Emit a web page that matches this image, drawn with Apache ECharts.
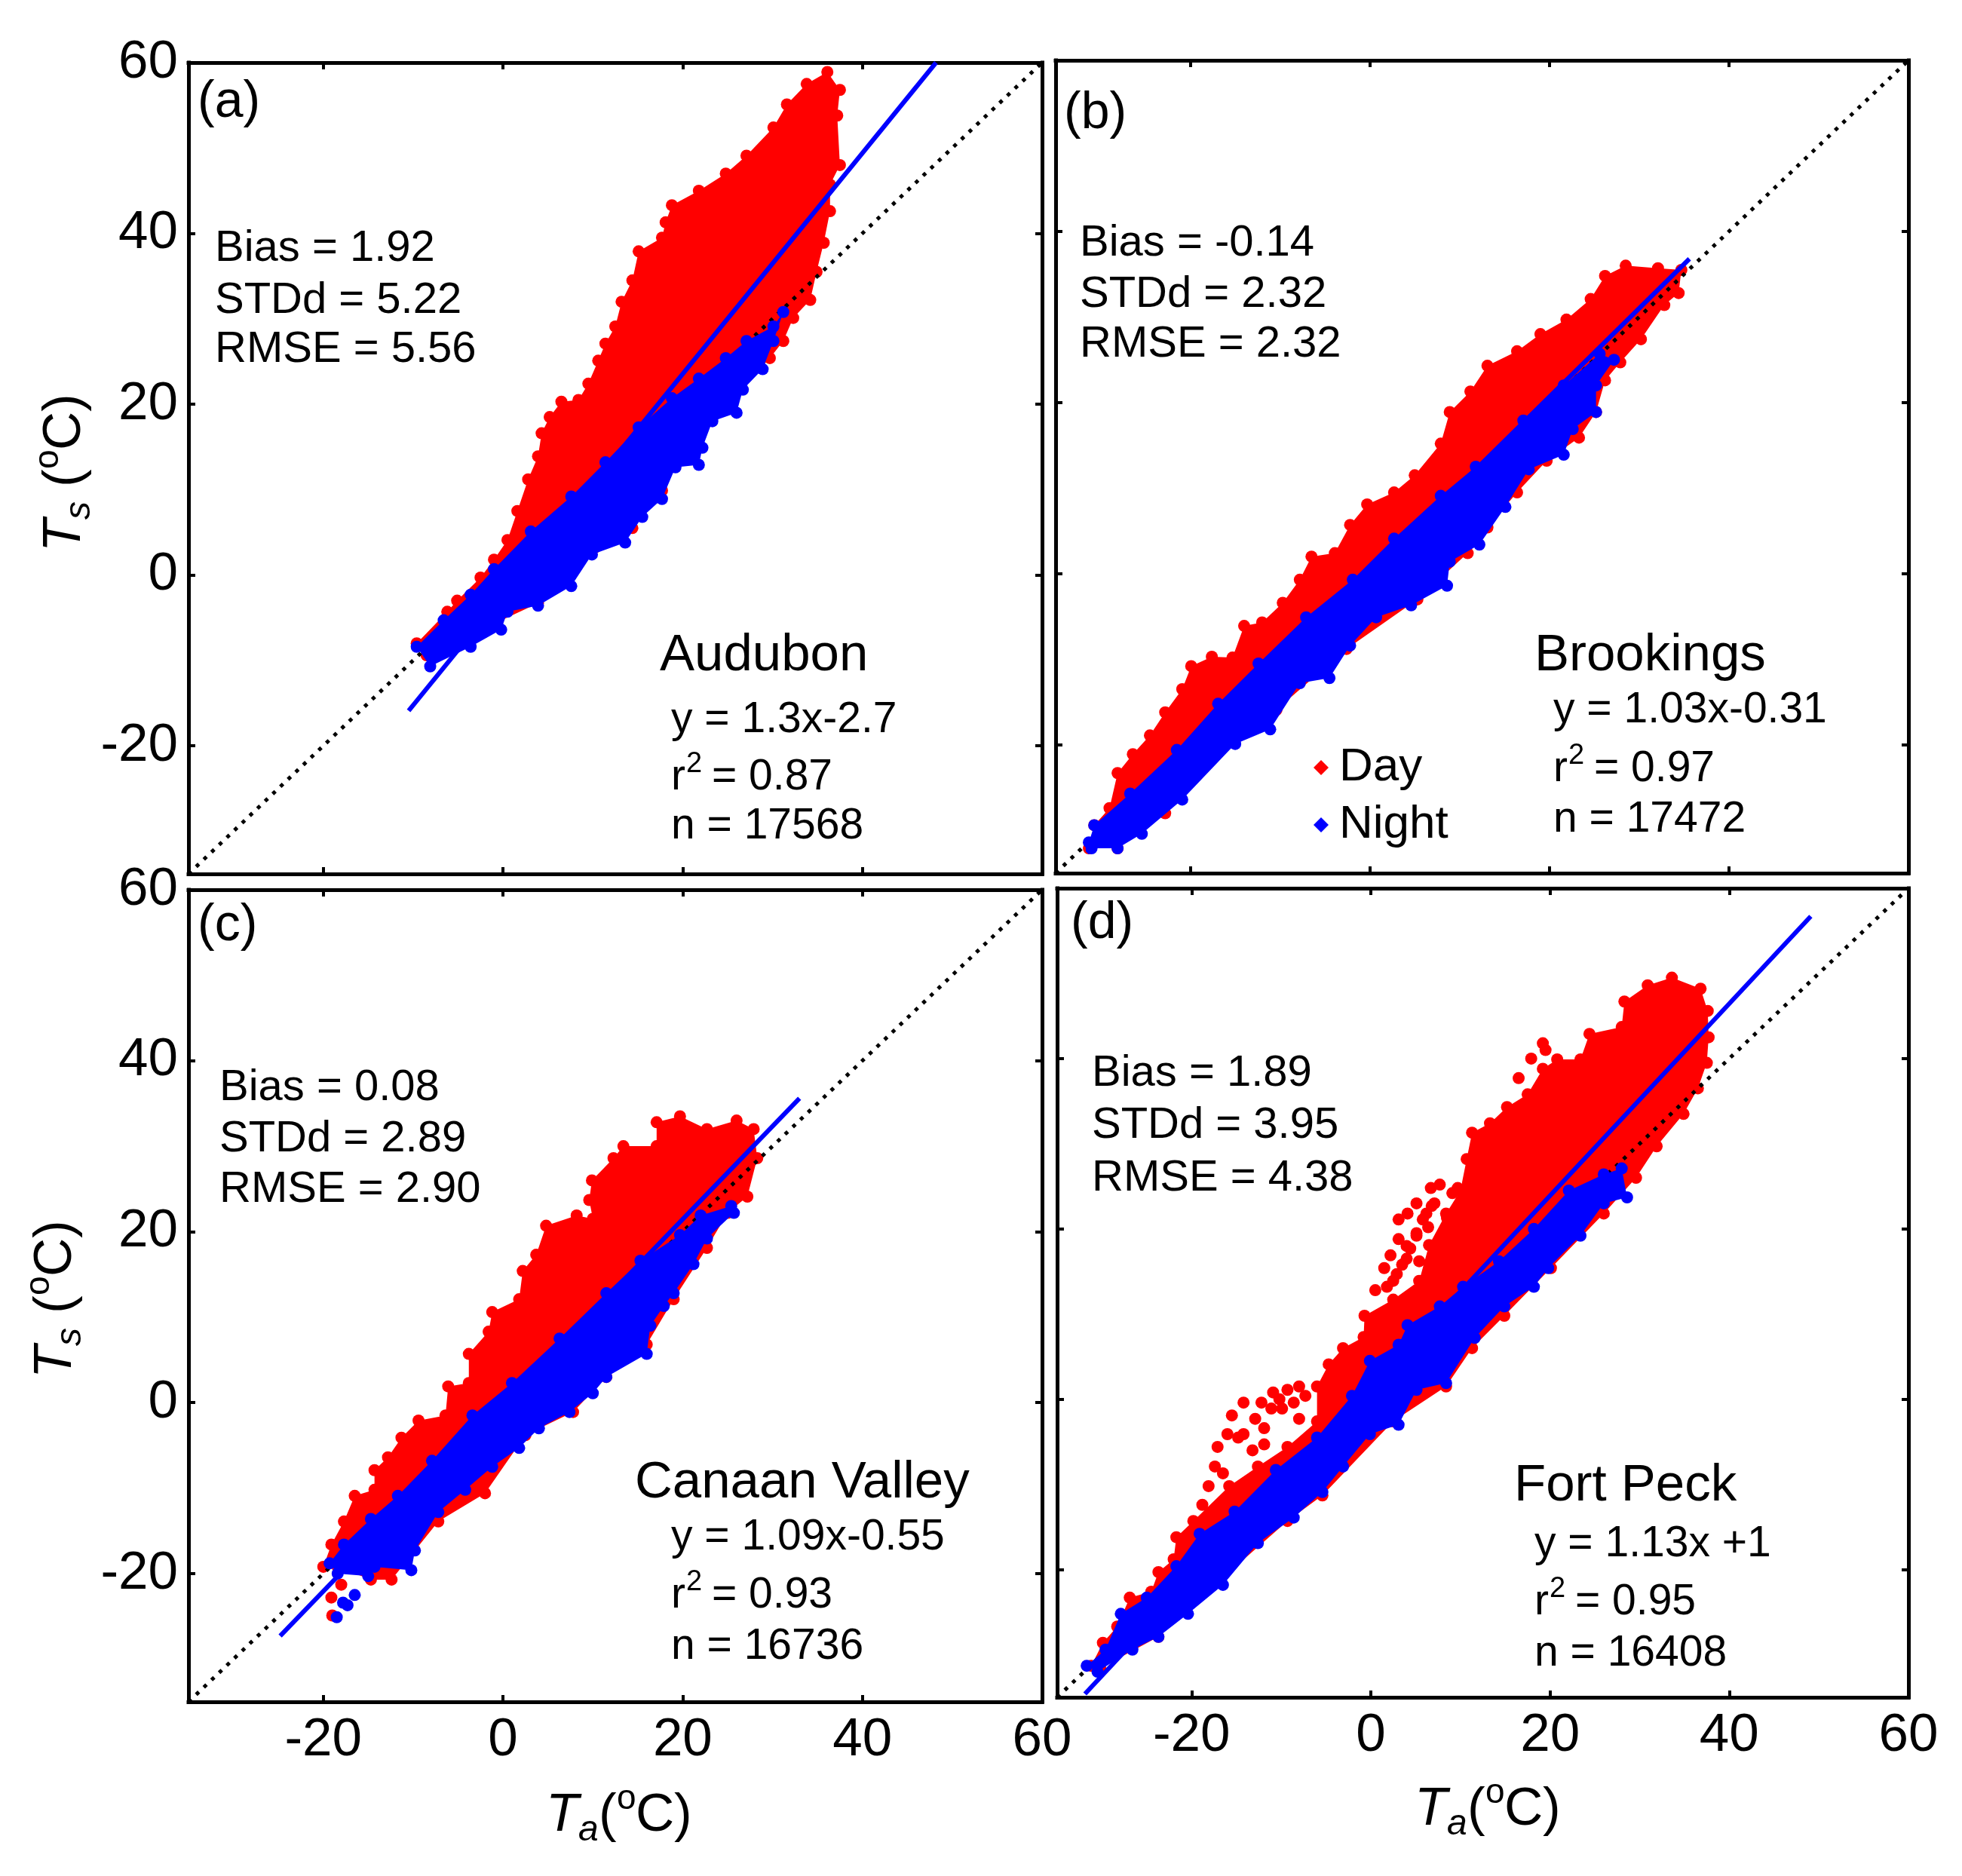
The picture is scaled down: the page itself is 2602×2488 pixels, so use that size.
<!DOCTYPE html>
<html><head><meta charset="utf-8">
<style>html,body{margin:0;padding:0;background:#fff}#c{width:2602px;height:2488px}</style>
<script src="https://cdn.jsdelivr.net/npm/echarts@6/dist/echarts.min.js"></script>
</head><body><div id="c"></div>
<script>
var tickValues=[-20,0,20,40,60];
var oneToOne=[[-35,-35],[60,60]];
var fitA=[[-10.5,-15.9],[48.2,60]];
var fitB=[[-31.5,-32.6],[35.6,36.8]];
var fitC=[[-24.8,-27.3],[33.0,35.6]];
var fitD=[[-31.9,-34.6],[49.1,56.7]];
var dayA=[[-9.6,-8.0],[-6.2,-4.3],[-5.1,-3.0],[-2.5,-0.3],[-1.0,1.8],[0.5,4.1],[1.6,7.5],[2.8,11.2],[3.9,13.9],[4.3,16.6],[5.2,18.5],[6.5,20.3],[8.4,20.5],[9.5,22.4],[10.6,25.1],[11.4,27.1],[12.5,29.1],[13.2,32.0],[14.4,34.5],[15.1,37.9],[17.7,39.5],[18.1,41.3],[18.8,43.3],[21.8,45.0],[24.8,47.0],[27.1,49.1],[30.1,52.4],[31.6,55.1],[33.8,57.5],[36.1,58.9],[37.5,56.8],[37.2,53.8],[37.5,48.0],[36.4,45.7],[36.4,42.6],[35.7,38.9],[34.9,35.5],[34.2,32.2],[32.3,30.1],[31.2,27.4],[29.7,25.4],[25.6,20.7],[18.8,13.2],[17.7,9.9],[14.4,5.5],[8.0,0.7],[3.9,-3.3],[-3.6,-7.0],[-8.5,-9.4]];
var nightA=[[-9.6,-8.4],[-6.6,-5.3],[-3.6,-2.3],[-1.0,0.7],[3.1,5.1],[7.6,9.2],[11.4,13.2],[15.1,17.3],[18.8,20.7],[21.8,23.0],[24.8,25.4],[27.1,27.4],[30.1,29.1],[31.2,30.8],[30.1,27.4],[28.9,24.1],[26.7,21.7],[26.0,19.0],[23.3,18.0],[22.2,14.9],[21.8,12.9],[19.2,12.6],[17.7,8.9],[15.5,6.8],[13.6,3.8],[9.9,2.4],[7.6,-1.3],[3.9,-3.6],[0.5,-4.3],[-0.2,-6.4],[-3.6,-8.4],[-8.1,-10.7]];
var dayB=[[-31.3,-32.1],[-30.7,-29.4],[-29.0,-27.4],[-28.1,-23.3],[-26.4,-21.1],[-24.5,-18.9],[-22.8,-16.2],[-20.9,-13.5],[-19.9,-10.8],[-17.6,-9.7],[-15.3,-9.8],[-14.0,-6.1],[-12.0,-5.7],[-9.7,-3.4],[-7.8,-0.7],[-6.5,2.0],[-3.9,2.4],[-2.2,5.7],[-0.3,8.1],[2.7,9.5],[5.0,11.5],[7.9,15.2],[8.9,18.9],[11.2,21.3],[13.1,24.3],[16.4,26.0],[19.0,28.0],[21.9,29.7],[24.6,32.1],[26.2,34.8],[28.5,36.0],[32.1,35.7],[34.7,35.5],[34.4,32.8],[32.8,31.4],[30.2,27.4],[27.9,24.7],[26.2,22.6],[25.2,18.9],[23.3,15.9],[19.7,13.2],[16.4,9.5],[13.1,5.4],[10.9,2.4],[5.3,-3.0],[-2.6,-8.8],[-10.4,-15.9],[-16.9,-20.6],[-22.8,-28.0],[-28.1,-32.1]];
var nightB=[[-31.3,-31.4],[-30.7,-29.4],[-26.7,-25.7],[-21.5,-20.6],[-16.9,-15.2],[-12.4,-10.5],[-7.1,-5.1],[-1.9,-0.7],[2.7,4.1],[7.9,9.1],[11.8,12.5],[17.1,17.9],[21.6,22.0],[25.6,25.7],[27.2,25.0],[25.2,22.0],[25.2,18.9],[22.6,16.9],[21.6,13.9],[17.7,12.2],[15.1,7.8],[12.2,3.4],[8.9,1.4],[8.6,-1.4],[4.6,-3.7],[0.7,-5.1],[-2.2,-8.4],[-4.5,-12.2],[-7.8,-12.8],[-11.1,-18.2],[-15.0,-19.9],[-20.9,-26.4],[-25.4,-30.4],[-28.1,-32.1],[-31.0,-32.1]];
var dayC=[[-20.0,-19.2],[-19.1,-16.6],[-17.7,-13.9],[-16.5,-10.9],[-14.3,-10.2],[-14.3,-7.9],[-12.8,-6.4],[-11.3,-4.1],[-9.4,-2.1],[-6.4,-1.5],[-6.1,1.9],[-3.8,2.3],[-3.8,5.7],[-1.6,8.3],[-1.2,10.6],[1.8,12.1],[2.2,15.4],[3.7,17.3],[4.8,20.7],[8.2,21.9],[10.0,21.5],[9.6,23.7],[9.9,26.0],[12.3,28.6],[13.4,30.0],[17.1,30.0],[17.1,32.8],[19.7,33.5],[22.7,32.0],[26.0,33.0],[27.9,32.0],[28.3,28.6],[27.2,24.1],[25.0,22.2],[22.7,18.1],[19.0,12.1],[16.0,6.8],[11.5,3.0],[7.8,-1.1],[2.5,-3.8],[-2.0,-10.6],[-7.2,-13.9],[-12.4,-20.7],[-14.7,-20.7],[-18.4,-19.2]];
var dayExtraC=[[-18.0,-21.3],[-19.1,-22.8],[-19.0,-24.9]];
var nightC=[[-19.3,-18.8],[-17.7,-16.6],[-14.7,-13.6],[-11.7,-10.9],[-7.9,-6.8],[-3.4,-1.5],[1.0,2.3],[6.3,7.5],[11.5,12.8],[15.3,16.6],[19.7,19.6],[22.0,21.9],[25.4,23.0],[25.7,22.2],[22.7,19.2],[21.2,16.2],[19.0,12.8],[17.9,11.3],[16.4,9.0],[16.0,5.7],[11.5,3.0],[10.0,1.1],[7.4,-1.1],[4.0,-3.0],[1.8,-5.3],[-1.2,-7.5],[-4.2,-10.2],[-7.2,-12.8],[-9.8,-17.3],[-10.2,-19.6],[-14.3,-19.2],[-15.0,-20.3],[-18.4,-20.0]];
var nightExtraC=[[-16.5,-22.5],[-17.8,-23.4],[-18.5,-25.1],[-17.3,-23.7]];
var dayD=[[-31.2,-31.3],[-29.9,-28.6],[-28.3,-26.7],[-26.9,-23.3],[-24.5,-22.6],[-23.7,-20.3],[-22.0,-18.8],[-21.7,-16.2],[-19.8,-14.3],[-15.8,-10.2],[-12.6,-7.9],[-9.3,-5.6],[-6.0,-2.6],[-6.0,1.5],[-4.7,4.1],[-3.1,6.0],[-0.8,7.3],[-0.7,9.8],[2.5,11.7],[5.4,13.9],[6.5,18.1],[8.4,21.8],[10.0,24.5],[10.7,28.2],[11.3,31.3],[13.3,32.4],[15.2,34.3],[17.5,35.8],[19.2,38.8],[20.8,39.9],[23.4,39.9],[24.4,42.9],[28.0,43.7],[28.3,46.7],[30.9,48.6],[33.6,49.5],[36.8,48.2],[37.6,45.6],[37.7,42.5],[37.5,39.5],[36.5,36.5],[34.9,33.5],[31.9,29.7],[29.6,26.0],[26.0,21.8],[20.1,15.4],[14.9,9.8],[11.3,6.0],[8.4,1.5],[2.5,-2.6],[-5.4,-11.3],[-9.3,-14.3],[-17.1,-21.5],[-23.7,-27.9],[-30.2,-31.6]];
var dayExtraD=[[-18.1,-10.2],[-18.8,-12.4],[-17.4,-7.9],[-17.1,-5.6],[-16.0,-4.1],[-15.5,-1.9],[-14.2,-0.4],[-12.2,-0.4],[-10.9,0.8],[-9.3,1.1],[-8.0,1.5],[-7.3,0.4],[-8.6,-0.4],[-14.2,-4.1],[-11.9,-3.4],[-12.9,-2.3],[-14.8,-4.5],[-9.9,-1.1],[-8.0,-2.3],[-11.9,-5.3],[-13.2,-6.0],[-16.5,-8.7],[-10.2,0],[-11.1,-1.1],[0.5,12.8],[1.5,15.4],[2.2,16.9],[3.1,18.8],[3.1,21.1],[4.1,21.8],[5.1,23],[6.7,24.8],[7.7,25.2],[9.7,24.8],[5.1,19.2],[4.4,17.7],[3.5,15.8],[2.5,13.9],[5.8,21.1],[7.1,23],[1.8,13.2],[6.4,20.2],[16.5,37.7],[17.9,40],[19.2,41.8],[19.5,41.0],[4.0,18.0],[5.1,19.5],[6.2,21.8],[8.5,21.3],[2.9,14.7],[4.0,16.5],[9.1,24.2],[6.8,22.7],[5.4,16.2]];
var nightD=[[-31.7,-31.3],[-29.6,-29.4],[-27.9,-25.2],[-25.0,-23.3],[-21.7,-19.6],[-19.1,-15.8],[-15.2,-13.2],[-10.6,-8.3],[-6.0,-4.5],[-2.1,0.4],[-0.1,4.5],[3.1,6.4],[4.1,8.7],[7.7,10.9],[10.3,13.2],[14.3,16.2],[18.2,20.0],[22.1,24.5],[26.0,26.4],[28.0,27.1],[28.6,23.7],[26.0,23.0],[23.4,19.2],[19.8,15.4],[18.2,13.2],[14.9,10.9],[11.6,7.2],[8.4,1.9],[5.1,1.1],[3.1,-3.0],[-0.1,-4.1],[-3.1,-7.9],[-5.4,-10.9],[-8.6,-13.9],[-12.6,-16.9],[-16.5,-21.8],[-20.4,-25.2],[-23.7,-27.9],[-26.6,-29.4],[-30.5,-32.0]];

var FONT='"Liberation Sans", Arial, sans-serif';
var RED='#ff0000',BLUE='#0000ff';
var panels=[
 {grid:{left:250,top:83,width:1132,height:1076},day:dayA,night:nightA,dayX:[],nightX:[],fit:fitA,yl:true,xl:false},
 {grid:{left:1400,top:80,width:1131,height:1078},day:dayB,night:nightB,dayX:[],nightX:[],fit:fitB,yl:false,xl:false},
 {grid:{left:250,top:1180,width:1132,height:1077},day:dayC,night:nightC,dayX:dayExtraC,nightX:nightExtraC,fit:fitC,yl:true,xl:true},
 {grid:{left:1402,top:1178,width:1129,height:1073},day:dayD,night:nightD,dayX:dayExtraD,nightX:[],fit:fitD,yl:false,xl:true}
];
function axis(kind,gi,position,labels){
 return {type:'value',gridIndex:gi,position:position,min:-35,max:60,scale:false,
  axisLine:{show:true,onZero:false,lineStyle:{color:'#000',width:5,cap:'square'}},
  axisTick:{show:true,inside:true,length:9,customValues:tickValues,lineStyle:{color:'#000',width:4}},
  axisLabel:{show:labels,customValues:tickValues,color:'#000',fontFamily:FONT,fontSize:71,margin:kind==='x'?16:14,
   padding:kind==='y'?[10,0,0,0]:0,hideOverlap:false,showMinLabel:true,showMaxLabel:true},
  splitLine:{show:false}};
}
function polygon(name,arr,color,xi,z){
 return {type:'custom',name:name,xAxisIndex:xi,yAxisIndex:xi,clip:false,silent:true,z:z,data:arr,animation:false,
  renderItem:function(params,api){
   if(params.dataIndex!==0) return null;
   return {type:'polygon',shape:{points:arr.map(function(p){return api.coord(p);})},style:{fill:color}};
  }};
}
function dots(name,arr,color,xi,z){
 return {type:'scatter',name:name,xAxisIndex:xi,yAxisIndex:xi,data:arr,symbol:'circle',symbolSize:16,
  itemStyle:{color:color,opacity:1},silent:true,z:z,animation:false};
}
function line(arr,xi,z,style){
 return {type:'line',xAxisIndex:xi,yAxisIndex:xi,data:arr,symbol:'none',silent:true,z:z,lineStyle:style,animation:false};
}
var grids=[],xAxes=[],yAxes=[],series=[];
panels.forEach(function(p,i){
 grids.push(p.grid);
 xAxes.push(axis('x',i,'bottom',p.xl));
 yAxes.push(axis('y',i,'left',p.yl));
 var ix=xAxes.length-1;
 xAxes.push(axis('x',i,'top',false));
 yAxes.push(axis('y',i,'right',false));
 series.push(polygon('Day area',p.day,RED,ix,2));
 series.push(dots('Day',p.day.concat(p.dayX),RED,ix,3));
 series.push(line(oneToOne,ix,4,{color:'#000',width:5,type:[5,9]}));
 series.push(polygon('Night area',p.night,BLUE,ix,5));
 series.push(dots('Night',p.night.concat(p.nightX),BLUE,ix,6));
 series.push(line(p.fit,ix,7,{color:BLUE,width:6}));
});
function txt(x,y,s,size,extra){
 var st={text:s,fontSize:size,fontFamily:FONT,fill:'#000',textAlign:'left',textVerticalAlign:'middle',align:'left',verticalAlign:'middle'};
 if(extra) for(var k in extra) st[k]=extra[k];
 return {type:'text',x:x,y:y,z:50,style:st};
}
var SF=58,TF=57,NF=69,PF=68;
function stats(x,ys,a,b,c){return [txt(x,ys[0],a,SF),txt(x,ys[1],b,SF),txt(x,ys[2],c,SF)];}
function rsq(x,y,v){return [txt(x,y,'r',TF),txt(x+20,y-17,'2',38),txt(x+54,y,'= '+v,TF)];}
function xTitle(x,y){
 return {type:'group',x:x,y:y,z:50,children:[
  txt(0,0,'T',71,{fontStyle:'italic'}),txt(43,20,'a',48,{fontStyle:'italic'}),txt(70,0,'(',71),
  txt(94,-22,'o',46),txt(119,0,'C',71),txt(170,0,')',71)]};
}
function yTitle(x,y){
 return {type:'group',x:x,y:y,rotation:Math.PI/2,z:50,children:[
  txt(0,0,'T',71,{fontStyle:'italic'}),txt(43,20,'s',48,{fontStyle:'italic'}),txt(86,0,'(',71),
  txt(110,-22,'o',46),txt(135,0,'C',71),txt(186,0,')',71)]};
}
var gfx=[].concat(
 [txt(262,136,'(a)',PF)],stats(285,[330,399,464],'Bias = 1.92','STDd = 5.22','RMSE = 5.56'),
 [txt(875,870,'Audubon',NF),txt(890,955,'y = 1.3x-2.7',TF)],rsq(890,1031,'0.87'),[txt(890,1096,'n = 17568',TF)],
 [txt(1411,151,'(b)',PF)],stats(1432,[323,391,457],'Bias = -0.14','STDd = 2.32','RMSE = 2.32'),
 [txt(2035,870,'Brookings',NF),txt(2060,942,'y = 1.03x-0.31',TF)],rsq(2060,1020,'0.97'),[txt(2060,1087,'n = 17472',TF)],
 [txt(262,1228,'(c)',PF)],stats(291,[1443,1511,1578],'Bias = 0.08','STDd = 2.89','RMSE = 2.90'),
 [txt(842,1967,'Canaan Valley',NF),txt(890,2039,'y = 1.09x-0.55',TF)],rsq(890,2116,'0.93'),[txt(890,2184,'n = 16736',TF)],
 [txt(1420,1225,'(d)',PF)],stats(1448,[1424,1493,1563],'Bias = 1.89','STDd = 3.95','RMSE = 4.38'),
 [txt(2008,1971,'Fort Peck',NF),txt(2035,2048,'y = 1.13x +1',TF)],rsq(2035,2125,'0.95'),[txt(2035,2193,'n = 16408',TF)],
 [yTitle(86,732),yTitle(74,1828),xTitle(724,2408),xTitle(1876,2400)]
);
var chart=echarts.init(document.getElementById('c'),null,{renderer:'canvas'});
chart.setOption({animation:false,backgroundColor:'#fff',
 grid:grids,xAxis:xAxes,yAxis:yAxes,series:series,graphic:{elements:gfx},
 legend:{show:true,orient:'vertical',left:1737,top:982,itemWidth:20,itemHeight:20,itemGap:14,selectedMode:false,
  data:[{name:'Day',icon:'diamond'},{name:'Night',icon:'diamond'}],
  textStyle:{fontFamily:FONT,fontSize:62,color:'#000',lineHeight:40,padding:[0,0,0,9]}}
});
</script></body></html>
